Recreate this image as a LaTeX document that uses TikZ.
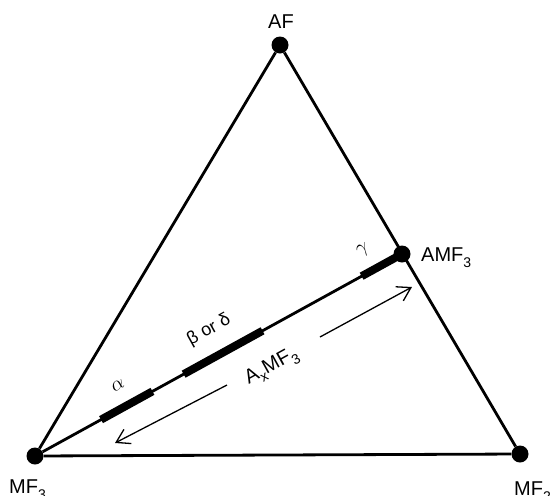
\documentclass[tikz,border=0pt]{standalone}
\usepackage{fontspec}
\setmainfont{Liberation Sans}
\usetikzlibrary{calc,arrows.meta}
\newcommand{\sbs}[1]{\raisebox{-0.3em}{\fontsize{14}{16}\selectfont #1}}
\begin{document}
\begin{tikzpicture}[x=1pt,y=-1pt,
  dot/.style={circle,fill=black,inner sep=0pt,minimum size=17pt},
  edge/.style={line width=2.8pt},
  phase/.style={line width=8pt},
  lbl/.style={font=\fontsize{20}{23}\selectfont,inner sep=0pt},
  greek/.style={font=\fontsize{18}{21}\selectfont,inner sep=0pt,rotate=29},
  mgreek/.style={font=\fontsize{22}{25}\selectfont,inner sep=0pt,rotate=29},
  dimarrow/.style={line width=1.3pt,-{Straight Barb[length=13pt,width=16pt,line width=1.3pt]}}]
\useasboundingbox (0,0) rectangle (555,496);
% vertices
\node[dot] (af) at (280,45) {};
\node[dot] (mf3) at (35,456) {};
\node[dot] (mf2) at (520,454) {};
\node[dot] (amf3) at (402,254) {};
% triangle
\draw[edge] (af) -- (mf3);
\draw[edge] (af) -- (mf2);
\draw[edge] (mf3) -- (mf2);
\draw[edge] (mf3) -- (amf3);
% phase segments
\coordinate (a1) at ($(mf3)!0.18!(amf3)$);
\coordinate (a2) at ($(mf3)!0.32!(amf3)$);
\coordinate (b1) at ($(mf3)!0.405!(amf3)$);
\coordinate (b2) at ($(mf3)!0.62!(amf3)$);
\coordinate (g1) at ($(mf3)!0.89!(amf3)$);
\draw[phase] (a1) -- (a2);
\draw[phase] (b1) -- (b2);
\draw[phase] (g1) -- (amf3.center);
% vertex labels
\node[lbl,anchor=base] (laf) at (281,28) {AF};
\node[lbl,anchor=base west] (lamf3) at (421,261) {AMF\sbs{3}};
\node[lbl,anchor=base west] (lmf3) at (9,493) {MF\sbs{3}};
\node[lbl,anchor=base west] (lmf2) at (514,495) {MF\sbs{2}};
% phase labels
\node[mgreek] (lalpha) at (118,385) {$\alpha$};
\node[greek] (lbeta) at (209,330) {β or δ};
\node[mgreek] (lgamma) at (363,251) {$\gamma$};
\node[lbl,rotate=29] (lax) at (272,367) {A\sbs{x}MF\sbs{3}};
% composition arrow
\coordinate (l1) at (227,385);
\coordinate (l2) at (115,443);
\coordinate (r1) at (320,337);
\coordinate (r2) at (412,287);
\draw[dimarrow] (l1) -- (l2);
\draw[dimarrow] (r1) -- (r2);
\end{tikzpicture}
\end{document}
